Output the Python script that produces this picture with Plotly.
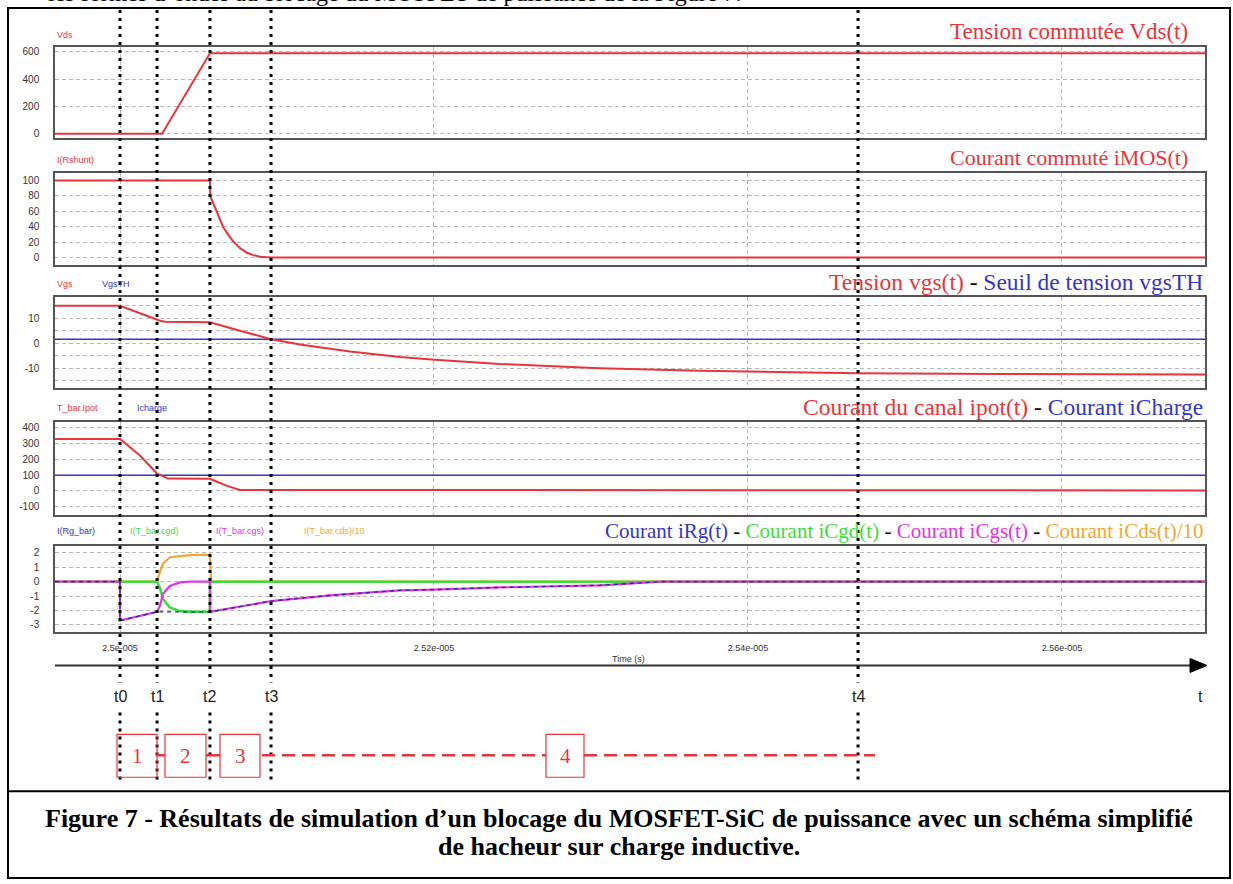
import plotly.graph_objects as go

W, H = 1233, 884

# ---------------- data (time in microseconds) ----------------
x_range = [24.9586, 25.6911]
tick_vals = [25.0, 25.2, 25.4, 25.6]
tick_text = ["2.5e-005", "2.52e-005", "2.54e-005", "2.56e-005"]

event_times = [25.0, 25.0236, 25.0573, 25.0962, 25.4701]
event_labels = ["t0", "t1", "t2", "t3", "t4"]

# Panel 1 : Vds
vds_t = [24.9586, 25.0268, 25.0573, 25.6911]
vds = [0, 0, 590, 590]

# Panel 2 : iMOS
imos_t = [24.9586, 25.0573, 25.0575, 25.0595, 25.0616, 25.0636, 25.0656, 25.0688, 25.0720,
          25.0765, 25.0809, 25.0850, 25.0892, 25.0962, 25.6911]
imos = [100, 100, 80, 70, 60, 50, 40, 30, 21, 12, 6, 3, 1, 0, 0]

# Panel 3 : Vgs and threshold
vgs_t = [24.9586, 25.0, 25.0127, 25.0255, 25.0287, 25.0573, 25.0764, 25.0962, 25.1146, 25.1465,
         25.1783, 25.2006, 25.2420, 25.3057, 25.3694, 25.4013, 25.4701, 25.5605, 25.6911]
vgs = [15, 15, 12, 9, 8.6, 8.4, 5, 1.6, -0.5, -3.3, -5.5, -6.6, -8.3, -10, -11, -11.4, -12, -12.3, -12.5]
vgsth_t = [24.9586, 25.6911]
vgsth = [1.6, 1.6]

# Panel 4 : ipot and Icharge
ipot_t = [24.9586, 25.0, 25.0127, 25.0236, 25.0306, 25.0573, 25.0618, 25.0682, 25.0764, 25.6911]
ipot = [330, 330, 225, 110, 78, 77, 58, 32, 6, 3]
icharge_t = [24.9586, 25.6911]
icharge = [100, 100]

# Panel 5 : gate currents
irg_t = [24.9586, 25.0, 25.0, 25.0236, 25.0573, 25.0764, 25.0962, 25.1338, 25.1783, 25.2006,
         25.2420, 25.3057, 25.3312, 25.3439, 25.6911]
irg = [0, 0, -2.7, -2.1, -2.1, -1.75, -1.35, -0.95, -0.6, -0.55, -0.4, -0.25, -0.1, 0, 0]

icgs_t = [24.9586, 25.0, 25.0, 25.0236, 25.0255, 25.0274, 25.0318, 25.0382, 25.0446, 25.0573,
          25.0573, 25.0764, 25.0962, 25.1338, 25.1783, 25.2006, 25.2420, 25.3057, 25.3312, 25.3439, 25.6911]
icgs = [0, 0, -2.7, -2.1, -1.65, -0.84, -0.3, -0.05, 0, 0,
        -2.1, -1.75, -1.35, -0.95, -0.6, -0.55, -0.4, -0.25, -0.1, 0, 0]

icgd_t = [24.9586, 25.0236, 25.0255, 25.0274, 25.0318, 25.0382, 25.0446, 25.0573, 25.0573, 25.6911]
icgd = [0, 0, -0.45, -1.2, -1.8, -2.05, -2.1, -2.1, 0, 0]

icds_t = [24.9586, 25.0236, 25.0255, 25.0274, 25.0318, 25.0382, 25.0446, 25.0573, 25.0580, 25.6911]
icds = [0, 0, 0.7, 1.26, 1.7, 1.8, 1.85, 1.88, 0, 0]

# ---------------- styling ----------------
RED = "#e8353b"
BLUE = "#3535c8"
GREEN = "#3ddc3d"
MAGENTA = "#e234e2"
ORANGE = "#f4a72c"
GRID = "#b8b8b8"
SERIF = "Liberation Serif"
SANS = "Liberation Sans"


def px(x):
    return x / W


def py(y):
    return 1 - y / H


# panel pixel boxes (top, bottom) and y ranges / ticks
panels = [
    dict(top=47, bot=138, rng=[-29, 637], tv=[0, 200, 400, 600], tt=["0", "200", "400", "600"]),
    dict(top=173, bot=266, rng=[-10.4, 110.4], tv=[0, 20, 40, 60, 80, 100],
         tt=["0", "20", "40", "60", "80", "100"]),
    dict(top=298, bot=389, rng=[-18, 18.4], tv=[-15, -10, -5, 0, 5, 10, 15],
         tt=["", "-10", "", "0", "", "10", ""]),
    dict(top=423, bot=516, rng=[-152, 437], tv=[-100, 0, 100, 200, 300, 400],
         tt=["-100", "0", "100", "200", "300", "400"]),
    dict(top=547, bot=633, rng=[-3.47, 2.5], tv=[-3, -2, -1, 0, 1, 2],
         tt=["-3", "-2", "-1", "0", "1", "2"]),
]

fig = go.Figure()


def add(xs, ys, color, row, width=2, dash=None):
    fig.add_trace(go.Scatter(
        x=xs, y=ys, mode="lines",
        line=dict(color=color, width=width, dash=dash),
        xaxis="x" if row == 1 else f"x{row}",
        yaxis="y" if row == 1 else f"y{row}",
        showlegend=False, hoverinfo="skip"))


add(vds_t, vds, RED, 1)
add(imos_t, imos, RED, 2)
add(vgsth_t, vgsth, BLUE, 3, 1.5)
add(vgs_t, vgs, RED, 3)
add(icharge_t, icharge, BLUE, 4, 1.5)
add(ipot_t, ipot, RED, 4)
add(icds_t, icds, ORANGE, 5, 2.2)
add(icgd_t, icgd, GREEN, 5, 2.6)
add(icgs_t, icgs, MAGENTA, 5, 2.2)
add(irg_t, irg, "#2a2a90", 5, 1.3, "4px,4px")

layout = dict(
    width=W, height=H, margin=dict(l=0, r=0, t=0, b=0),
    paper_bgcolor="white", plot_bgcolor="white",
    showlegend=False,
)

for i, p in enumerate(panels, start=1):
    xa = "xaxis" if i == 1 else f"xaxis{i}"
    ya = "yaxis" if i == 1 else f"yaxis{i}"
    layout[xa] = dict(
        domain=[px(55), px(1205)], range=x_range,
        anchor="y" if i == 1 else f"y{i}",
        tickmode="array", tickvals=tick_vals,
        ticktext=tick_text if i == 5 else [""] * len(tick_vals),
        showticklabels=(i == 5),
        tickfont=dict(family=SANS, size=9, color="#333"),
        ticks="", ticklabelstandoff=7,
        showgrid=True, gridcolor=GRID, griddash="4px,3px", gridwidth=1,
        zeroline=False, showline=True, mirror=True, linecolor="#555", linewidth=2,
    )
    layout[ya] = dict(
        domain=[py(p["bot"]), py(p["top"])], range=p["rng"],
        anchor="x" if i == 1 else f"x{i}",
        tickmode="array", tickvals=p["tv"], ticktext=p["tt"],
        tickfont=dict(family=SANS, size=10, color="#333"),
        ticks="", ticklabelstandoff=12,
        showgrid=True, gridcolor=GRID, griddash="4px,3px", gridwidth=1,
        zeroline=False, showline=True, mirror=True, linecolor="#555", linewidth=1.5,
    )

fig.update_layout(**layout)

shapes = []
# outer frame and caption separator
shapes.append(dict(type="rect", xref="paper", yref="paper", x0=px(8), x1=px(1230), y0=py(880), y1=py(8),
                   line=dict(color="black", width=2)))
shapes.append(dict(type="line", xref="paper", yref="paper", x0=px(8), x1=px(1230), y0=py(793), y1=py(793),
                   line=dict(color="black", width=2)))
# time arrow axis
shapes.append(dict(type="line", xref="paper", yref="paper", x0=px(55), x1=px(1192), y0=py(667), y1=py(667),
                   line=dict(color="#333", width=2)))
shapes.append(dict(type="path", xref="paper", yref="paper",
                   path=f"M {px(1190)} {py(660)} L {px(1207)} {py(667)} L {px(1190)} {py(674)} Z",
                   fillcolor="black", line=dict(color="black", width=1)))
# event dotted lines
for t in event_times:
    for (a, b) in [(10, 684), (714, 782)]:
        shapes.append(dict(type="line", xref="x5", yref="paper", x0=t, x1=t, y0=py(a), y1=py(b),
                           line=dict(color="black", width=3, dash="3px,5px")))
# phase boxes
boxes = [(117, 157, "1"), (165, 206, "2"), (220, 260, "3"), (546, 584, "4")]
for x0, x1, _ in boxes:
    shapes.append(dict(type="rect", xref="paper", yref="paper", x0=px(x0), x1=px(x1), y0=py(779), y1=py(736),
                       line=dict(color=RED, width=1.2), fillcolor="rgba(0,0,0,0)"))
# red connecting dashes
for a, b in [(157, 165), (206, 220)]:
    shapes.append(dict(type="line", xref="paper", yref="paper", x0=px(a), x1=px(b), y0=py(757), y1=py(757),
                       line=dict(color=RED, width=2.5)))
for a, b in [(262, 546), (584, 875)]:
    shapes.append(dict(type="line", xref="paper", yref="paper", x0=px(a), x1=px(b), y0=py(757), y1=py(757),
                       line=dict(color=RED, width=2.5, dash="13px,7px")))

annotations = []


def ann(text, x, y, size, color="black", family=SANS, xanchor="left", yanchor="middle", **kw):
    annotations.append(dict(text=text, x=px(x), y=py(y), xref="paper", yref="paper", showarrow=False,
                            xanchor=xanchor, yanchor=yanchor,
                            font=dict(size=size, color=color, family=family), **kw))


# partially hidden sentence at the very top
ann("les formes d’ondes au blocage du MOSFET de puissance de la Figure 7.", 46, 8, 24,
    family=SERIF, yanchor="bottom")

# small simulator labels
ann("Vds", 55, 35, 9, RED)
ann("I(Rshunt)", 55, 160, 9, RED)
ann("Vgs", 55, 285, 9, RED)
ann("VgsTH", 100, 285, 9, BLUE)
ann("T_bar.Ipot", 55, 409, 9, RED)
ann("Icharge", 135, 409, 9, BLUE)
ann("I(Rg_bar)", 55, 532, 9, BLUE)
ann("I(T_bar.cgd)", 128, 532, 9, GREEN)
ann("I(T_bar.cgs)", 214, 532, 9, MAGENTA)
ann("I(T_bar.cds)/10", 302, 532, 9, ORANGE)


def sp(txt, c):
    return f"<span style='color:{c}'>{txt}</span>"


SEP = " - "
titles = [
    (32, 1190, 23, sp("Tension commutée Vds(t)", RED)),
    (158, 1190, 22, sp("Courant commuté iMOS(t)", RED)),
    (283, 1205, 23.5, sp("Tension vgs(t)", RED) + SEP + sp("Seuil de tension vgsTH", BLUE)),
    (408, 1205, 23.5, sp("Courant du canal ipot(t)", RED) + SEP + sp("Courant iCharge", BLUE)),
    (532, 1205, 21, sp("Courant iRg(t)", BLUE) + SEP + sp("Courant iCgd(t)", GREEN) + SEP
     + sp("Courant iCgs(t)", MAGENTA) + SEP + sp("Courant iCds(t)/10", ORANGE)),
]
for y, xr, size, txt in titles:
    ann(txt, xr, y, size, "black", SERIF, xanchor="right")

ann("Time (s)", 628, 660, 9, "#333", xanchor="center")

# event labels under the arrow axis
for t, lab in zip(event_times, event_labels):
    annotations.append(dict(text=lab, x=t, y=py(698), xref="x5", yref="paper", showarrow=False,
                            xanchor="center", yanchor="middle",
                            font=dict(size=16, color="#222", family=SANS)))
ann("t", 1200, 698, 16, "#222", xanchor="center")

for x0, x1, lab in boxes:
    ann(lab, (x0 + x1) / 2, 758, 21, RED, SERIF, xanchor="center")

# caption
ann("<b>Figure 7 - Résultats de simulation d’un blocage du MOSFET-SiC de puissance avec un schéma simplifié</b>",
    619, 820, 26, "black", SERIF, xanchor="center")
ann("<b>de hacheur sur charge inductive.</b>", 619, 848, 26, "black", SERIF, xanchor="center")

fig.update_layout(shapes=shapes, annotations=annotations)

fig.write_html("out.html", config={"displayModeBar": False},
               post_script="document.body.style.margin='0';")
